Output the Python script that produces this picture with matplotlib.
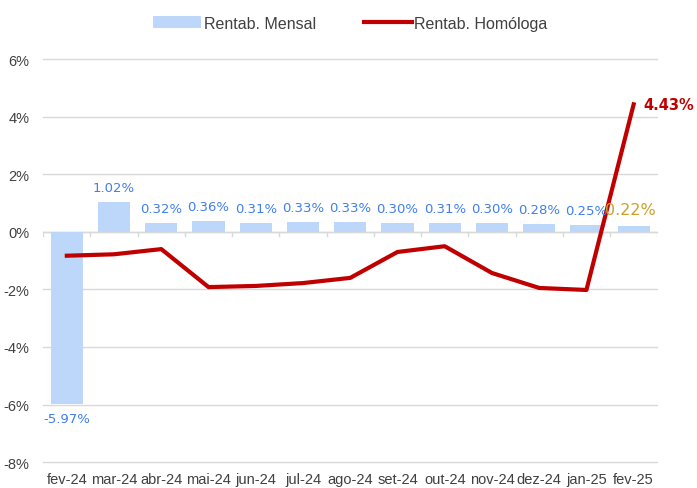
import matplotlib
matplotlib.use("Agg")
import matplotlib.pyplot as plt
from matplotlib.ticker import FuncFormatter

plt.rcParams['font.family'] = ['Liberation Sans Narrow', 'Liberation Sans', 'DejaVu Sans']

meses = ['fev-24', 'mar-24', 'abr-24', 'mai-24', 'jun-24', 'jul-24', 'ago-24',
         'set-24', 'out-24', 'nov-24', 'dez-24', 'jan-25', 'fev-25']
rentab_mensal = [-5.97, 1.02, 0.32, 0.36, 0.31, 0.33, 0.33, 0.30, 0.31, 0.30, 0.28, 0.25, 0.22]
rentab_homologa = [-0.83, -0.78, -0.60, -1.92, -1.88, -1.78, -1.60, -0.70, -0.50, -1.43, -1.95, -2.02, 4.43]

fig = plt.figure(figsize=(6.97, 4.89), dpi=100)
ax = fig.add_axes([0.062, 0.053, 0.881, 0.824])

x = list(range(len(meses)))
barras = ax.bar(x, rentab_mensal, width=0.68, color='#BDD7FB', label='Rentab. Mensal', zorder=2)
linha, = ax.plot(x, rentab_homologa, color='#C00000', lw=3, label='Rentab. Homóloga', zorder=3)

ax.set_ylim(-8, 6)
ax.set_yticks(range(-8, 7, 2))
ax.yaxis.set_major_formatter(FuncFormatter(lambda v, p: f'{v:.0f}%'))
ax.set_xlim(-0.5, len(meses) - 0.5)
ax.set_xticks(x)
ax.set_xticklabels(meses)
ax.tick_params(axis='both', length=0, labelsize=10.5, colors='#404040')
ax.tick_params(axis='x', pad=7)
ax.tick_params(axis='y', pad=10)
ax.grid(axis='y', color='#D9D9D9', lw=1, zorder=0)
for gl in ax.get_ygridlines():
    gl.set_clip_on(False)
for s in ax.spines.values():
    s.set_visible(False)
ax.axhline(0, color='#D9D9D9', lw=1, zorder=1)
for i in range(len(meses) + 1):
    ax.plot([i - 0.5, i - 0.5], [0, -0.15], color='#D9D9D9', lw=1, zorder=1)

# rótulos
for i, v in enumerate(rentab_mensal):
    if i == len(meses) - 1:
        ax.text(i - 0.06, v + 0.3, f'{v:.2f}%', ha='center', va='bottom',
                color='#C9A227', fontsize=11.5, family=['DejaVu Sans'])
    elif v < 0:
        ax.text(i, v - 0.3, f'{v:.2f}%', ha='center', va='top',
                color='#3F7FF0', fontsize=9.5, family=['DejaVu Sans'])
    else:
        ax.text(i, v + 0.28, f'{v:.2f}%', ha='center', va='bottom',
                color='#3F7FF0', fontsize=9.5, family=['DejaVu Sans'])
ax.text(len(meses) - 1 + 0.2, rentab_homologa[-1], f'{rentab_homologa[-1]:.2f}%',
        ha='left', va='center', color='#C00000', fontsize=10.5, fontweight='bold',
        family=['DejaVu Sans'])

ax.legend([barras, linha], ['Rentab. Mensal', 'Rentab. Homóloga'],
          loc='lower center', bbox_to_anchor=(0.5, 1.035), ncol=2, frameon=False,
          fontsize=11.5, handlelength=3.0, handletextpad=0.15, columnspacing=3.0,
          labelcolor='#404040')

fig.savefig('out.png', dpi=100)
